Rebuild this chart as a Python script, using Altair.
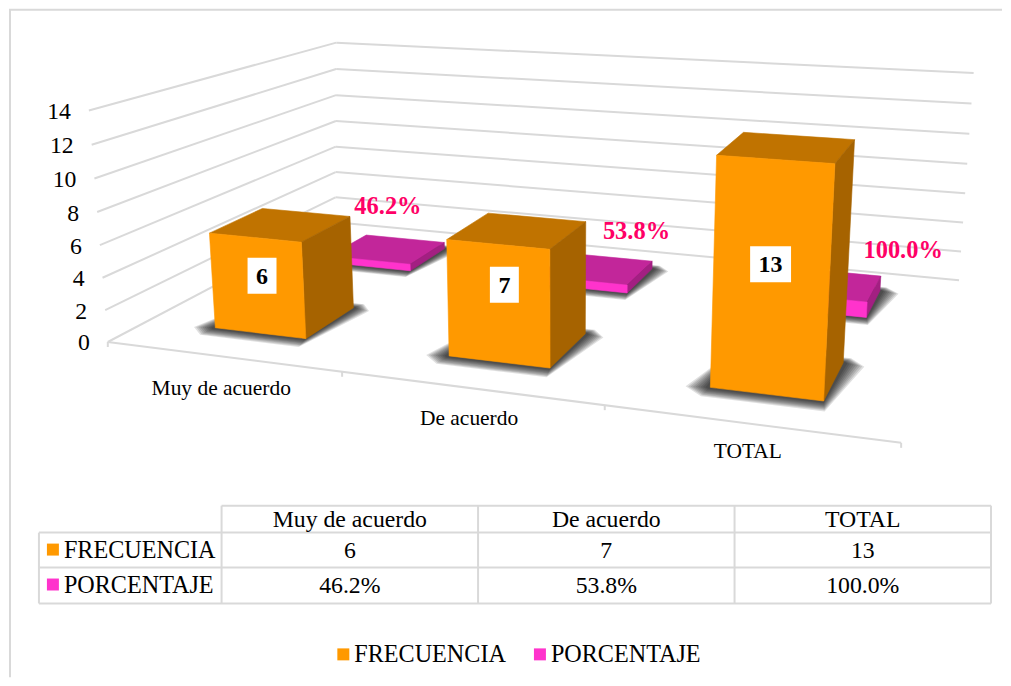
import altair as alt
import pandas as pd

categories = ["Muy de acuerdo", "De acuerdo", "TOTAL"]
frecuencia = [6, 7, 13]
porcentaje = [46.2, 53.8, 100.0]
porcentaje_txt = ["46.2%", "53.8%", "100.0%"]
axis_ticks = [0, 2, 4, 6, 8, 10, 12, 14]
series = ["FRECUENCIA", "PORCENTAJE"]

ORANGE = {"front": "#FF9900", "top": "#C07300", "side": "#A66300"}
PINK = {"front": "#FF33CC", "top": "#C2269A", "side": "#A31F82"}
GRID = "#D9D9D9"
SERIF = "Liberation Serif"

# ---- 3D box projection (category position, depth, value) -> page scale units
def project(u, w, v, corner=False):
    s, t, z = u / 3.0, w, v / 14.0
    den = -0.1617 * s + 0.2870 * t - 0.04 * z + 1
    x = (649.1 * s + 324.1 * t - 22.5 * z + 107) / den
    y = (29.4 * s - 56.3 * t - 236.4 * z + 342) / den
    if corner:
        x += 8.3 * z
        y += 2.5 * z
    return x, y


def poly_rows(pts, pid, fill, opacity=1.0):
    """Turn a convex polygon into the x / y / y2 rows of an area mark."""
    rows = []
    n = len(pts)
    for xv in sorted({round(p[0], 3) for p in pts}):
        ys = []
        for i in range(n):
            (x0, y0), (x1, y1) = pts[i], pts[(i + 1) % n]
            lo, hi = min(x0, x1), max(x0, x1)
            if lo - 0.002 <= xv <= hi + 0.002:
                if abs(x1 - x0) < 1e-6:
                    ys += [y0, y1]
                else:
                    ys.append(y0 + (y1 - y0) * (xv - x0) / (x1 - x0))
        rows.append(dict(x=xv, y=min(ys), y2=max(ys), pid=pid, fill=fill, op=opacity))
    return rows


def bar_rows(prefix, i, v, w0, w1, col):
    u0, u1 = i + 0.3, i + 0.7
    faces = {
        "top": [(u0, w0, v), (u1, w0, v), (u1, w1, v), (u0, w1, v)],
        "side": [(u1, w0, 0), (u1, w1, 0), (u1, w1, v), (u1, w0, v)],
        "front": [(u0, w0, 0), (u1, w0, 0), (u1, w0, v), (u0, w0, v)],
    }
    rows = []
    for name, corners in faces.items():
        pts = [project(*c) for c in corners]
        rows += poly_rows(pts, f"{prefix}{i}{name}", col[name])
    return rows


SHADOW_LEVELS = [1.0, 0.9, 0.8, 0.7, 0.6, 0.5, 0.4, 0.3, 0.2]


def shadow_rows(prefix, i, w0, w1):
    u0, u1 = i + 0.3, i + 0.7
    rows = []
    for k, f in enumerate(SHADOW_LEVELS):
        fp = [
            (u0 - 0.085 * f, w0 - 0.01 * f),
            (u0 - 0.01 * f, w0 - 0.05 * f),
            (u1 + 0.02 * f, w0 - 0.05 * f),
            (u1 + 0.08 * f, w1 - 0.01 * f),
            (u1 + 0.02 * f, w1 + 0.03 * f),
            (u0, w1 + 0.03 * f),
        ]
        pts = [project(a, b, 0) for a, b in fp]
        rows += poly_rows(pts, f"{prefix}{i}s{k}", "#000000", 0.12)
    return rows


xs = alt.Scale(domain=[8, 1003], range=[0, 995], nice=False, zero=False)
ys = alt.Scale(domain=[678, 8], range=[670, 0], nice=False, zero=False)


def X(f="x"):
    return alt.X(f"{f}:Q", scale=xs, axis=None)


def Y(f="y"):
    return alt.Y(f"{f}:Q", scale=ys, axis=None)


def rules(rows, width=2):
    return alt.Chart(pd.DataFrame(rows, columns=["x", "y", "x2", "y2"])).mark_rule(
        color=GRID, strokeWidth=width
    ).encode(x=X(), y=Y(), x2="x2:Q", y2="y2:Q")


def areas(rows, edge=True):
    mark = alt.Chart(pd.DataFrame(rows)).mark_area(
        orient="vertical", strokeWidth=0.6 if edge else 0
    )
    enc = dict(
        x=X(), y=Y(), y2="y2:Q", detail="pid:N",
        color=alt.Color("fill:N", scale=None),
        opacity=alt.Opacity("op:Q", scale=None),
    )
    if edge:
        enc["stroke"] = alt.Stroke("fill:N", scale=None)
    return mark.encode(**enc)


def texts(rows, size, align="center", bold=False, color="#000000"):
    return alt.Chart(pd.DataFrame(rows, columns=["x", "y", "t"])).mark_text(
        font=SERIF, fontSize=size, align=align, baseline="middle",
        fontWeight="bold" if bold else "normal", color=color,
    ).encode(x=X(), y=Y(), text="t:N")


def rects(rows, color):
    return alt.Chart(pd.DataFrame(rows, columns=["x", "y", "x2", "y2"])).mark_rect(
        color=color
    ).encode(x=X(), y=Y(), x2="x2:Q", y2="y2:Q")


# ---- frame
frame = rules([[8, 9, 1003, 9], [9, 9, 9, 678]], 2)

# ---- walls
grid = []
for v in axis_ticks:
    ax, ay = project(0, 0, v)
    bx, by = project(0, 1, v, corner=True)
    cx, cy = project(3, 1, v)
    grid += [[ax, ay, bx, by], [bx, by, cx, cy]]
walls = rules(grid)

# ---- floor axis and ticks
fx0, fy0 = project(0, 0, 0)
fx1, fy1 = project(3, 0, 0)
floor_rows = [[fx0, fy0, fx1, fy1]]
for i in range(4):
    tx, ty = project(i, 0, 0)
    floor_rows.append([tx, ty, tx, ty + 5])
floor = rules(floor_rows)

# ---- value axis labels
axis_labels = []
for v in axis_ticks:
    ax, ay = project(0, 0, v)
    axis_labels.append([ax - 18, ay + 1.5, str(v)])
axis_text = texts(axis_labels, 23.8, align="right")

# ---- category labels (just under each category's stretch of the floor axis)
cat_rows = []
cat_drop = [33, 31, 29]
for i, c in enumerate(categories):
    cx, cy = project(i + 0.5, 0, 0)
    cat_rows.append([cx - 0.5, cy + cat_drop[i], c])
cat_text = texts(cat_rows, 21.5)

# ---- bars
W1 = (0.15, 0.365)
W2 = (0.66, 0.86)
pink_sh, pink_bars, orange_sh, orange_bars = [], [], [], []
for i in range(3):
    pink_sh += shadow_rows("p", i, *W2)
    pink_bars += bar_rows("p", i, porcentaje[i] / 100.0, *W2, PINK)
    orange_sh += shadow_rows("o", i, *W1)
    orange_bars += bar_rows("o", i, frecuencia[i], *W1, ORANGE)

# ---- data labels
label_shift = [(4.5, -10), (6, -19), (0, -15)]
box_rows, freq_labels, pct_labels = [], [], []
pct_shift = [(-17, -32), (27.5, -25), (70, -20.6)]
for i in range(3):
    lx, ly = project(i + 0.5, W1[0], frecuencia[i] / 2)
    lx += label_shift[i][0]
    ly += label_shift[i][1]
    half = 14.5 if frecuencia[i] < 10 else 20.5
    box_rows.append([lx - half, ly - 18, lx + half, ly + 18])
    freq_labels.append([lx, ly + 1, str(frecuencia[i])])
    px, py = project(i + 0.5, W2[1], porcentaje[i] / 100.0)
    pct_labels.append([px + pct_shift[i][0], py + pct_shift[i][1], porcentaje_txt[i]])
boxes = rects(box_rows, "#FFFFFF")
freq_text = texts(freq_labels, 24, bold=True)
pct_text = texts(pct_labels, 24.5, bold=True, color="#FF0066")

# ---- data table
col_x = [221, 478, 735, 992]
row_y = [506, 533, 568, 604]
left_x = 38
tbl = [[col_x[0], row_y[0], col_x[-1], row_y[0]]]
tbl += [[left_x, yy, col_x[-1], yy] for yy in row_y[1:]]
tbl += [[xx, row_y[0], xx, row_y[-1]] for xx in col_x]
tbl += [[left_x, row_y[1], left_x, row_y[-1]]]
table_lines = rules(tbl, 2)

row_c = [520, 551, 587]
tbl_text = []
for i in range(3):
    cx = (col_x[i] + col_x[i + 1]) / 2
    tbl_text.append([cx, row_c[0], categories[i]])
    tbl_text.append([cx, row_c[1], str(frecuencia[i])])
    tbl_text.append([cx, row_c[2], porcentaje_txt[i]])
table_text = texts(tbl_text, 23.8)
table_names = texts([[63, row_c[1], series[0]], [63, row_c[2], series[1]],
                     [354, 656, series[0]], [551, 656, series[1]]], 24.2, align="left")
orange_keys = rects([[46, 544, 58, 556], [337, 649, 349, 661]], ORANGE["front"])
pink_keys = rects([[46, 579, 58, 591], [534, 649, 546, 661]], PINK["front"])

chart = alt.layer(
    frame, walls, floor,
    areas(pink_sh, edge=False), areas(pink_bars),
    areas(orange_sh, edge=False), areas(orange_bars),
    boxes, axis_text, cat_text, freq_text, pct_text,
    table_lines, table_text, table_names, orange_keys, pink_keys,
).properties(width=995, height=670, padding=0, background="#FFFFFF").configure_view(stroke=None)

chart.save("out.html", embed_options={"renderer": "svg", "actions": False})
